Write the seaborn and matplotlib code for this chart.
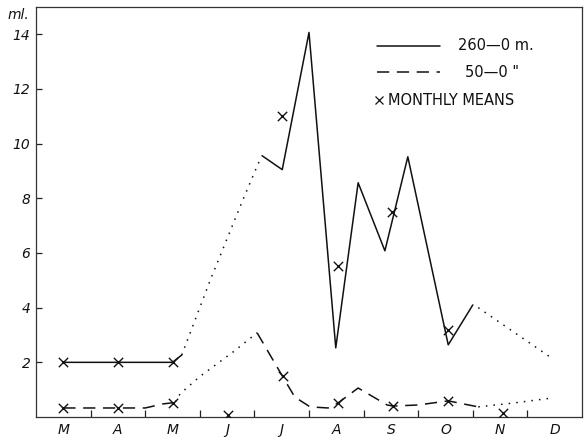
import matplotlib
matplotlib.use("Agg")
import matplotlib.pyplot as plt
import seaborn as sns

# x axis: months counted from 1 March (0) to 31 December (10)
month_labels = ["M", "A", "M", "J", "J", "A", "S", "O", "N", "D"]
month_centres = [0.5, 1.5, 2.5, 3.5, 4.5, 5.5, 6.5, 7.5, 8.5, 9.5]
month_bounds = [1, 2, 3, 4, 5, 6, 7, 8, 9]
y_ticks = [2, 4, 6, 8, 10, 12, 14]

# 260-0 m. haul (ml.)
deep_a_x = [0.5, 1.5, 2.5, 2.67]
deep_a_y = [2.0, 2.0, 2.0, 2.27]
deep_gap1_x = [2.67, 3.19, 3.79, 4.10]
deep_gap1_y = [2.27, 5.0, 7.95, 9.41]
deep_b_x = [4.14, 4.51, 5.0, 5.49, 5.90, 6.39, 6.81, 7.55, 8.0]
deep_b_y = [9.56, 9.05, 14.07, 2.53, 8.57, 6.08, 9.52, 2.64, 4.10]
deep_gap2_x = [8.1, 9.47]
deep_gap2_y = [4.0, 2.12]

# 50-0 m. haul (ml.)
shallow_a_x = [0.5, 1.5, 2.0, 2.33, 2.5]
shallow_a_y = [0.33, 0.33, 0.33, 0.48, 0.52]
shallow_gap1_x = [2.55, 2.64, 3.0, 3.61, 4.05]
shallow_gap1_y = [0.55, 0.85, 1.48, 2.38, 3.08]
shallow_b_x = [4.05, 4.52, 4.74, 5.02, 5.35, 5.53, 5.90, 6.43, 6.54, 7.0, 7.55, 8.1]
shallow_b_y = [3.08, 1.47, 0.73, 0.37, 0.33, 0.51, 1.06, 0.44, 0.40, 0.44, 0.59, 0.37]
shallow_gap2_x = [8.1, 8.74, 9.47]
shallow_gap2_y = [0.37, 0.51, 0.70]

# monthly means
deep_mean_x = [0.5, 1.5, 2.5, 4.5, 5.53, 6.52, 7.55]
deep_mean_y = [2.0, 2.0, 2.0, 11.03, 5.53, 7.5, 3.19]
shallow_mean_x = [0.5, 1.5, 2.5, 3.52, 4.52, 5.53, 6.54, 7.55, 8.55]
shallow_mean_y = [0.33, 0.33, 0.52, 0.07, 1.5, 0.51, 0.40, 0.59, 0.15]

sns.set_style("ticks")
plt.rcParams["font.family"] = ["DejaVu Sans"]
plt.rcParams["text.color"] = "#111111"
plt.rcParams["xtick.color"] = "#222222"
plt.rcParams["ytick.color"] = "#222222"
plt.rcParams["xtick.labelcolor"] = "#111111"
plt.rcParams["ytick.labelcolor"] = "#111111"

fig = plt.figure(figsize=(5.84, 4.37), dpi=100)
ax = fig.add_axes([36 / 584, 20 / 437, 546 / 584, 410 / 437])

ink = "#111111"
solid = "-"
dashed = (0, (8, 5))
dotted = (0, (1, 4))

def trace(xs, ys, ls):
    sns.lineplot(x=xs, y=ys, ax=ax, color=ink, linewidth=1.1, linestyle=ls,
                 estimator=None, sort=False)

trace(deep_a_x, deep_a_y, solid)
trace(deep_gap1_x, deep_gap1_y, dotted)
trace(deep_b_x, deep_b_y, solid)
trace(deep_gap2_x, deep_gap2_y, dotted)
trace(shallow_a_x, shallow_a_y, dashed)
trace(shallow_gap1_x, shallow_gap1_y, dotted)
trace(shallow_b_x, shallow_b_y, dashed)
trace(shallow_gap2_x, shallow_gap2_y, dotted)

for mx, my in [(deep_mean_x, deep_mean_y), (shallow_mean_x, shallow_mean_y)]:
    sns.scatterplot(x=mx, y=my, ax=ax, marker="x", s=45, color=ink,
                    linewidth=1.0, zorder=5)

ax.set_xlim(0, 10)
ax.set_ylim(0, 15)

ax.set_xticks(month_bounds)
ax.set_xticklabels([])
ax.tick_params(axis="x", which="major", direction="in", length=5, width=0.9)
ax.set_xticks(month_centres, minor=True)
ax.set_xticklabels(month_labels, minor=True, fontstyle="italic", fontsize=10)
ax.tick_params(axis="x", which="minor", length=0, pad=4)

ax.set_yticks(y_ticks)
ax.set_yticklabels([str(v) for v in y_ticks], fontstyle="italic", fontsize=10)
ax.tick_params(axis="y", direction="in", length=4, width=0.9, pad=4)

for side in ["left", "right", "top", "bottom"]:
    ax.spines[side].set_linewidth(0.9)
    ax.spines[side].set_color("#333333")

ax.set_xlabel("")
ax.set_ylabel("")
ax.text(-0.033, 0.98, "ml.", transform=ax.transAxes, ha="center", va="center",
        fontstyle="italic", fontsize=10)

# key, upper right
key_font = dict(fontsize=10.5, va="center", ha="left", transform=ax.transAxes,
                color=ink)
ax.plot([0.625, 0.740], [0.905, 0.905], transform=ax.transAxes, color=ink,
        linewidth=1.1, linestyle=solid)
ax.text(0.773, 0.905, "260\u20140 m.", **key_font)
ax.plot([0.625, 0.740], [0.841, 0.841], transform=ax.transAxes, color=ink,
        linewidth=1.1, linestyle=dashed)
ax.text(0.786, 0.841, "50\u20140 \"", **key_font)
ax.plot([0.628], [0.773], transform=ax.transAxes, color=ink, marker="x",
        markersize=6, markeredgewidth=0.9, linestyle="none")
ax.text(0.645, 0.773, "MONTHLY MEANS", **key_font)

fig.savefig("out.png", dpi=100)
